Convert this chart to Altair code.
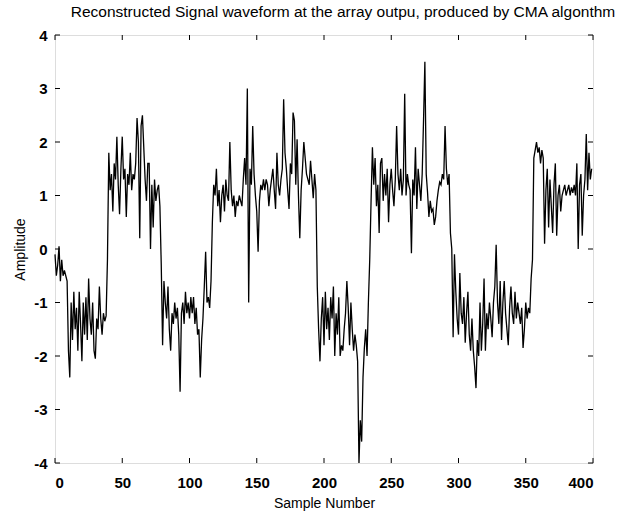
import altair as alt
import pandas as pd

# Amplitude values, samples 0..399
amp_000 = [-0.1, -0.5, -0.3, 0.05, -0.6, -0.2, -0.5, -0.4, -0.5, -0.6,
           -1.9, -2.4, -1.0, -1.7, -0.8, -1.5, -1.1, -1.9, -0.8, -1.4,
           -2.1, -1.0, -1.6, -0.9, -1.7, -0.55, -1.3, -1.6, -1.0, -1.9,
           -2.05, -1.3, -1.5, -0.7, -1.3, -1.6, -1.2, -1.35, -1.25, -0.2,
           1.8, 1.1, 1.4, 0.7, 1.6, 1.3, 2.1, 1.2, 0.65, 1.5]
amp_050 = [2.1, 1.3, 1.5, 0.6, 1.4, 1.2, 1.8, 1.1, 1.4, 1.3,
           1.6, 2.45, 2.0, 0.2, 2.3, 2.5, 1.9, 1.3, 0.9, 1.6,
           1.6, 0.0, 1.2, 0.4, 1.3, 0.9, 1.1, 1.2, 0.8, -0.3,
           -1.8, -0.6, -1.0, -1.3, -0.7, -1.5, -1.9, -1.2, -1.4, -1.0,
           -1.3, -1.1, -1.6, -2.67, -1.2, -1.0, -1.4, -0.8, -1.2, -1.0]
amp_100 = [-1.3, -0.9, -1.2, -0.9, -1.4, -1.1, -1.6, -1.5, -2.4, -1.7,
           -1.3, -0.7, -0.05, -1.0, -0.9, -1.1, -0.6, 0.5, 1.2, 1.0,
           1.5, 0.8, 1.1, 0.5, 1.0, 1.2, 0.7, 1.3, 1.0, 0.9,
           2.0, 1.1, 0.8, 1.0, 0.6, 0.9, 0.8, 1.0, 0.9, 0.8,
           1.3, 1.7, 1.2, 3.0, -1.0, 1.5, 1.2, 2.3, 1.4, 1.0]
amp_150 = [0.7, -0.05, 0.9, 1.2, 1.1, 1.3, 1.1, 1.3, 1.2, 0.8,
           1.1, 1.3, 1.5, 1.1, 0.75, 1.8, 1.2, 1.0, 1.3, 1.5,
           2.8, 1.8, 1.5, 1.1, 0.75, 1.6, 1.4, 2.55, 2.4, 1.2,
           2.05, 1.0, 0.2, 1.1, 1.5, 2.0, 1.7, 1.4, 1.3, 1.2,
           1.65, 1.3, 0.95, 1.4, 1.1, -0.7, -1.5, -2.1, -1.3, -0.9]
amp_200 = [-1.8, -0.8, -1.5, -1.1, -1.7, -0.9, -1.3, -0.7, -2.0, -1.2,
           -1.6, -0.9, -2.0, -1.8, -1.9, -1.5, -1.2, -0.6, -1.1, -1.8,
           -1.0, -1.5, -1.9, -1.6, -1.8, -2.1, -4.0, -3.2, -3.6, -2.4,
           -1.85, -1.5, -2.0, -1.0, -0.2, 0.9, 1.9, 1.2, 1.7, 0.8,
           1.2, 0.3, 1.6, 1.7, 0.9, 1.4, 1.0, 1.5, 0.5, 1.2]
amp_250 = [1.5, 1.1, 0.8, 1.3, 2.3, 1.4, 1.1, 1.5, 1.0, 1.3,
           2.9, 1.0, 1.4, 1.2, 1.1, -0.08, 1.3, 1.0, 1.9, 0.75,
           1.5, 1.2, 0.9, 1.4, 2.4, 3.5, 1.4, 1.05, 0.6, 0.9,
           0.7, 0.75, 0.45, 0.6, 0.9, 1.1, 1.25, 1.2, 1.4, 1.3,
           2.3, 1.5, 1.2, 1.4, 0.3, 0.0, -1.65, -0.1, -0.8, -1.3]
amp_300 = [-1.6, -0.45, -1.2, -1.4, -0.9, -1.75, -1.2, -0.8, -1.6, -1.9,
           -1.3, -1.9, -2.2, -2.6, -1.7, -2.0, -1.0, -1.9, -1.4, -0.55,
           -1.9, -1.2, -1.5, -1.0, -1.3, -1.65, -1.0, -0.7, 0.08, -1.0,
           -1.4, -0.6, -1.7, -1.0, -0.6, -1.2, -1.5, -1.8, -1.1, -0.7,
           -1.2, -1.4, -0.8, -1.3, -1.0, -1.2, -1.4, -1.1, -1.85, -1.5]
amp_350 = [-1.0, -1.3, -1.1, -1.2, -0.55, -0.2, 1.7, 1.85, 2.0, 1.8,
           1.9, 1.6, 1.85, 1.7, 0.1, 1.1, 1.5, 0.4, 1.3, 0.8,
           0.3, 1.2, 1.6, 0.25, 1.0, 1.2, 0.7, 1.0, 1.1, 1.2,
           1.0, 1.1, 1.2, 1.0, 1.15, 1.05, 1.2, 1.0, 1.6, 0.0,
           1.2, 1.4, 0.25, 1.0, 1.3, 2.15, 1.1, 1.8, 1.3, 1.5]

amplitude = amp_000 + amp_050 + amp_100 + amp_150 + amp_200 + amp_250 + amp_300 + amp_350
samples = list(range(len(amplitude)))

x_ticks = [0, 50, 100, 150, 200, 250, 300, 350, 400]
y_ticks = [-4, -3, -2, -1, 0, 1, 2, 3, 4]

W, H = 538, 428
FONT = "Liberation Sans"

df = pd.DataFrame({"n": samples, "a": amplitude})
dfx = pd.DataFrame({"xt": x_ticks})
dfy = pd.DataFrame({"yt": y_ticks})

xscale = alt.Scale(domain=[0, 400], nice=False)
yscale = alt.Scale(domain=[-4, 4], nice=False)

line = alt.Chart(df).mark_line(color="black", strokeWidth=1.3).encode(
    x=alt.X("n:Q", scale=xscale,
            axis=alt.Axis(values=x_ticks, title="Sample Number", ticks=False,
                          grid=False, domain=False, labelPadding=12,
                          labelExpr="'' + datum.value",
                          labelFontSize=15, labelFont=FONT, labelFontWeight="bold",
                          labelColor="black",
                          titleFontSize=14, titleFont=FONT, titleFontWeight="normal",
                          titleColor="black", titlePadding=6)),
    y=alt.Y("a:Q", scale=yscale,
            axis=alt.Axis(values=y_ticks, title="Amplitude", ticks=False,
                          grid=False, domain=False, labelPadding=8,
                          labelExpr="'' + datum.value",
                          labelFontSize=15, labelFont=FONT, labelFontWeight="bold",
                          labelColor="black",
                          titleFontSize=14, titleFont=FONT, titleFontWeight="normal",
                          titleColor="black", titlePadding=6)),
)

tick_style = dict(color="black", strokeWidth=1)
xt_bottom = alt.Chart(dfx).mark_rule(**tick_style).encode(
    x=alt.X("xt:Q", scale=xscale), y=alt.value(H), y2=alt.value(H - 5))
xt_top = alt.Chart(dfx).mark_rule(**tick_style).encode(
    x=alt.X("xt:Q", scale=xscale), y=alt.value(0), y2=alt.value(5))
yt_left = alt.Chart(dfy).mark_rule(**tick_style).encode(
    y=alt.Y("yt:Q", scale=yscale), x=alt.value(0), x2=alt.value(5))
yt_right = alt.Chart(dfy).mark_rule(**tick_style).encode(
    y=alt.Y("yt:Q", scale=yscale), x=alt.value(W), x2=alt.value(W - 5))

chart = alt.layer(line, xt_bottom, xt_top, yt_left, yt_right).properties(
    width=W, height=H,
    title=alt.TitleParams(
        "Reconstructed Signal waveform at the array outpu, produced by CMA algonthm",
        fontSize=15.5, font=FONT, fontWeight="normal", color="black",
        anchor="middle", dx=19, offset=8),
    autosize=alt.AutoSizeParams(type="none"),
    padding={"left": 55, "top": 35, "right": 39, "bottom": 53},
).configure_view(stroke="black", strokeWidth=1.5).configure(background="white")

chart.save("out.html", embed_options={"renderer": "svg", "actions": False})
